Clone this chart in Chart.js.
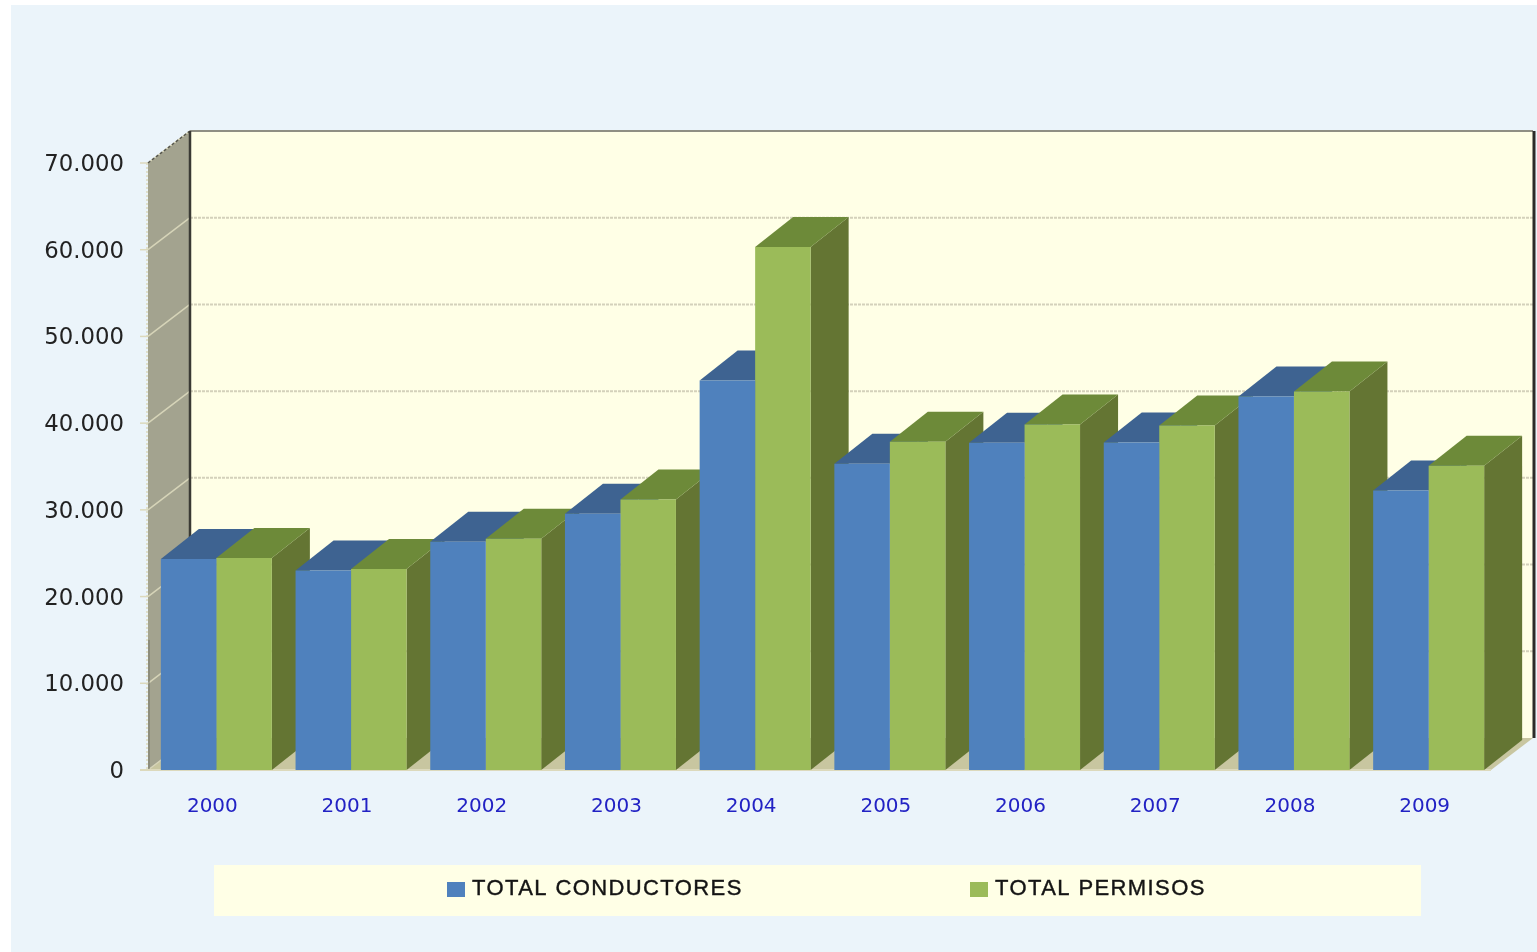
<!DOCTYPE html>
<html>
<head>
<meta charset="utf-8">
<title>Conductores y permisos</title>
<style>
    html, body { margin: 0; padding: 0; background: #ffffff; overflow: hidden; }
    #chart-wrap { width: 1537px; height: 952px; }
</style>
<script src="https://cdn.jsdelivr.net/npm/chart.js@4"></script>
</head>
<body>
<div id="chart-wrap"><canvas id="permisos-chart" width="1537" height="952"></canvas></div>
<script>
const years = ['2000', '2001', '2002', '2003', '2004', '2005', '2006', '2007', '2008', '2009'];
const totalConductores = [24330, 23010, 26330, 29560, 44920, 35330, 37730, 37760, 43070, 32220];
const totalPermisos = [24450, 23180, 26670, 31180, 60310, 37840, 39840, 39720, 43650, 35100];
const seriesNames = ['TOTAL CONDUCTORES', 'TOTAL PERMISOS'];

// Fake 3D depth, in pixels
const WALL_DX = 42;
const WALL_DY = 32;
const BAR_DX = 38;
const BAR_DY = 30;

const polygon = (ctx, points, fill) => {
    ctx.beginPath();
    points.forEach(([x, y], i) => (i === 0 ? ctx.moveTo(x, y) : ctx.lineTo(x, y)));
    ctx.closePath();
    ctx.fillStyle = fill;
    ctx.fill();
};

const line = (ctx, x1, y1, x2, y2, color, width, dash) => {
    ctx.beginPath();
    ctx.setLineDash(dash || []);
    ctx.moveTo(x1, y1);
    ctx.lineTo(x2, y2);
    ctx.strokeStyle = color;
    ctx.lineWidth = width;
    ctx.stroke();
    ctx.setLineDash([]);
};

const panelPlugin = {
    id: 'panel',
    beforeDraw(chart) {
        const { ctx, width, height } = chart;
        ctx.save();
        ctx.fillStyle = '#ebf4fa';
        ctx.fillRect(11, 5, width - 11, height - 5);
        ctx.restore();
    }
};

// Walls and floor, placed from the chart's own y scale
const wallsPlugin = {
    id: 'walls',
    beforeDatasetsDraw(chart) {
        const { ctx, scales: { y }, chartArea } = chart;
        const frontLeft = chartArea.left - 1;
        const backLeft = frontLeft + WALL_DX;
        const backRight = chart.width - 4;
        const frontTop = y.getPixelForValue(70000);
        const frontBottom = y.getPixelForValue(0);

        ctx.save();
        polygon(ctx, [
            [backLeft, frontTop - WALL_DY], [backRight, frontTop - WALL_DY],
            [backRight, frontBottom - WALL_DY], [backLeft, frontBottom - WALL_DY]
        ], '#ffffe6');
        polygon(ctx, [
            [frontLeft, frontTop], [backLeft, frontTop - WALL_DY],
            [backLeft, frontBottom - WALL_DY], [frontLeft, frontBottom]
        ], '#a3a38f');
        polygon(ctx, [
            [frontLeft, frontBottom], [backLeft, frontBottom - WALL_DY],
            [backRight, frontBottom - WALL_DY], [backRight - WALL_DX, frontBottom]
        ], '#c8c6a0');

        y.ticks.forEach((tick) => {
            const py = y.getPixelForValue(tick.value);
            line(ctx, frontLeft - 8, py, frontLeft, py, '#dcd9bc', 1.5);
            line(ctx, frontLeft, py, backLeft, py - WALL_DY, '#d6d4b8', 1.5);
            if (tick.value > 0 && tick.value < 70000) {
                line(ctx, backLeft, py - WALL_DY, backRight, py - WALL_DY, '#d4d1bb', 2, [3, 1]);
            }
        });
        line(ctx, backLeft, frontTop - WALL_DY, backRight, frontTop - WALL_DY, '#8f8f84', 2);
        line(ctx, frontLeft, frontTop, backLeft, frontTop - WALL_DY, '#55554c', 1.5, [3, 2]);
        line(ctx, backLeft, frontTop - WALL_DY, backLeft, frontBottom - WALL_DY, '#3a3a34', 2.5);
        line(ctx, backRight + 1, frontTop - WALL_DY, backRight + 1, frontBottom - WALL_DY, '#2b2b28', 3);
        line(ctx, frontLeft - 1, frontTop, frontLeft - 1, frontBottom, '#dcd9bc', 1.5, [2, 2]);
        line(ctx, frontLeft + 1, y.getPixelForValue(15000), frontLeft + 1, frontBottom, '#77776a', 1);
        line(ctx, frontLeft - 8, frontBottom, backRight - WALL_DX, frontBottom, '#dcd9bc', 2);
        ctx.restore();
    }
};

// Top and side faces of each bar, taken from the bar elements, left to right
const barFacesPlugin = {
    id: 'barFaces',
    beforeDatasetsDraw(chart) {
        const { ctx } = chart;
        const faces = [
            { top: '#3e6391', side: '#3e6391' },
            { top: '#6d8a39', side: '#647533' }
        ];
        ctx.save();
        years.forEach((year, i) => {
            chart.data.datasets.forEach((dataset, d) => {
                const bar = chart.getDatasetMeta(d).data[i];
                const left = bar.x - bar.width / 2;
                const right = bar.x + bar.width / 2;
                polygon(ctx, [
                    [right, bar.y], [right + BAR_DX, bar.y - BAR_DY],
                    [right + BAR_DX, bar.base - BAR_DY], [right, bar.base]
                ], faces[d].side);
                polygon(ctx, [
                    [left, bar.y], [left + BAR_DX, bar.y - BAR_DY],
                    [right + BAR_DX, bar.y - BAR_DY], [right, bar.y]
                ], faces[d].top);
            });
        });
        ctx.restore();
    }
};

// Legend box with its wide gap, drawn from the datasets
const legendBoxPlugin = {
    id: 'legendBox',
    afterDraw(chart) {
        const { ctx } = chart;
        const squareX = [447, 970];
        ctx.save();
        ctx.fillStyle = '#ffffe6';
        ctx.fillRect(214, 865, 1207, 51);
        ctx.font = '22px "Liberation Sans"';
        ctx.letterSpacing = '1.4px';
        ctx.textBaseline = 'middle';
        chart.data.datasets.forEach((dataset, d) => {
            ctx.fillStyle = dataset.backgroundColor;
            ctx.fillRect(squareX[d], 882, 18, 15);
            ctx.fillStyle = '#141414';
            ctx.strokeStyle = '#141414';
            ctx.lineWidth = 0.4;
            ctx.fillText(dataset.label, squareX[d] + 25, 889);
            ctx.strokeText(dataset.label, squareX[d] + 25, 889);
        });
        ctx.restore();
    }
};

const renderPermisosChart = () => {
    const ctx = document.querySelector('canvas#permisos-chart').getContext('2d');

    return new Chart(ctx, {
        type: 'bar',
        data: {
            labels: years,
            datasets: [
                { label: seriesNames[0], data: totalConductores, backgroundColor: '#4f81bd', borderWidth: 0 },
                { label: seriesNames[1], data: totalPermisos, backgroundColor: '#9bbb59', borderWidth: 0 }
            ]
        },
        options: {
            responsive: false,
            animation: false,
            layout: {
                padding: { top: 163, right: 41, bottom: 122, left: 0 }
            },
            datasets: {
                bar: { barPercentage: 1, categoryPercentage: 0.824 }
            },
            plugins: {
                legend: { display: false },
                tooltip: { enabled: false }
            },
            scales: {
                x: {
                    grid: { display: false, drawTicks: false },
                    border: { display: false },
                    afterFit: (scale) => { scale.height = 60; },
                    ticks: {
                        color: '#2222c4',
                        padding: 25,
                        labelOffset: -4,
                        maxRotation: 0,
                        font: { family: 'DejaVu Sans', size: 20 }
                    }
                },
                y: {
                    min: 0,
                    max: 70000,
                    grid: { display: false, drawTicks: false },
                    border: { display: false },
                    afterFit: (scale) => { scale.width = 149; },
                    ticks: {
                        stepSize: 10000,
                        color: '#222222',
                        padding: 25,
                        labelOffset: 2,
                        font: { family: 'DejaVu Sans', size: 22.8 },
                        callback: (value) => value.toLocaleString('de-DE')
                    }
                }
            }
        },
        plugins: [panelPlugin, wallsPlugin, barFacesPlugin, legendBoxPlugin]
    });
};

document.addEventListener('DOMContentLoaded', () => {
    renderPermisosChart();
});
</script>
</body>
</html>
